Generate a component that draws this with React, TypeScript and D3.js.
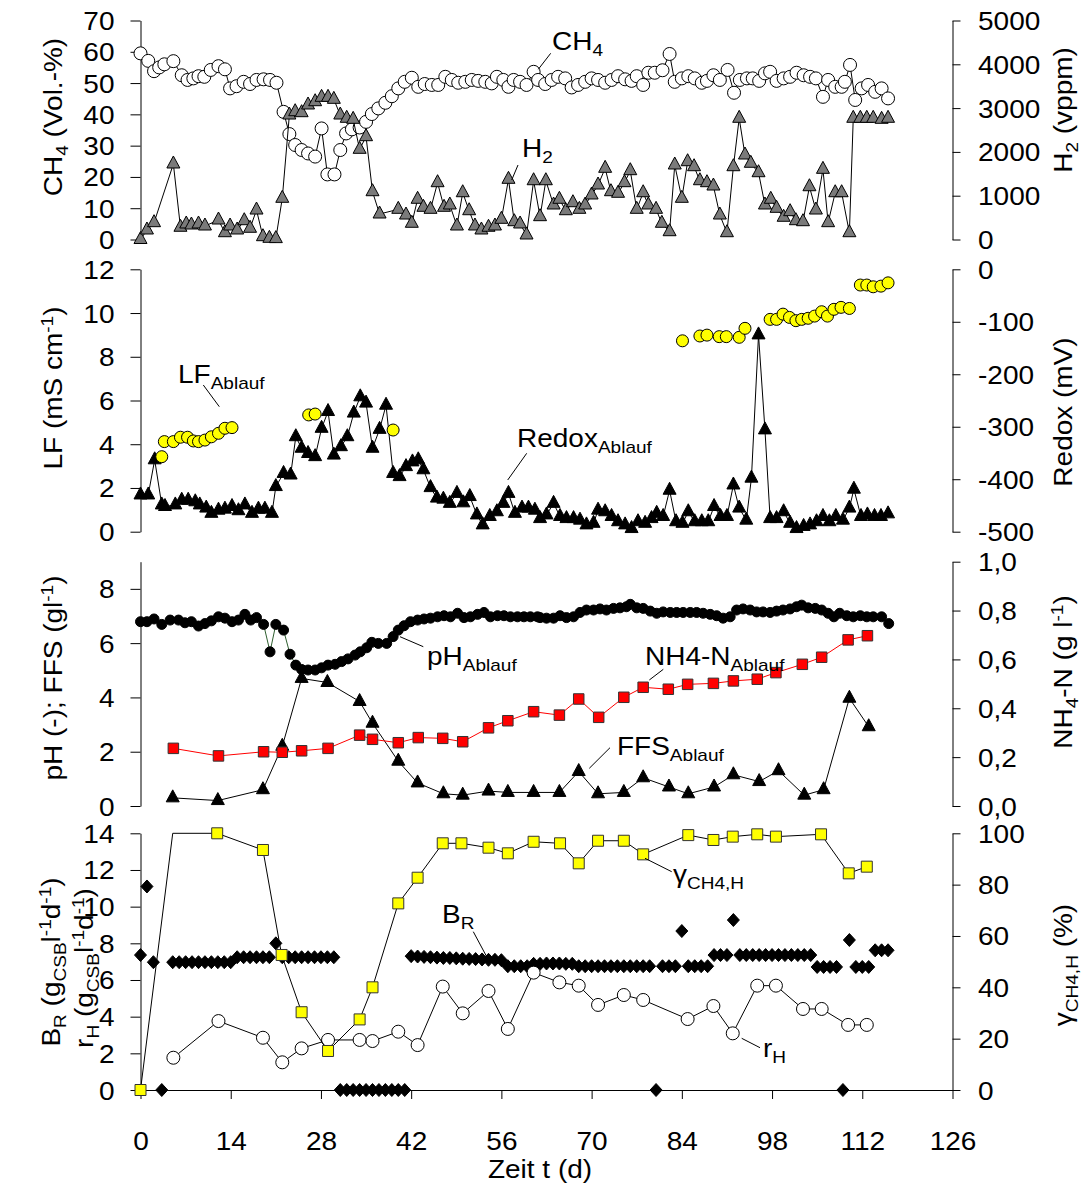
import React, { useEffect, useRef } from "react";
import * as d3 from "d3";

// ---- data (day, value) ----
const ch4Data = [[0,59.5],[1.2,57.1],[2.1,53.8],[2.9,55],[3.7,56],[5.1,57],[6.4,52.5],[7.3,51],[8.2,51.5],[9,52.2],[9.9,52],[10.9,54.2],[12.1,55.4],[13.1,54.4],[13.9,48.3],[14.9,49],[16,50.4],[17,49.7],[18,51],[19.1,51.2],[20.1,51],[21.1,50.1],[22.2,40.8],[23.1,33.7],[24,30.2],[25,28.6],[26,27.5],[27.1,26.5],[28.1,35.5],[29,20.8],[30.1,20.8],[31,28.6],[31.9,33.9],[32.8,35.2],[34,35.8],[35,37.6],[35.9,40.1],[36.9,41.9],[38,43.7],[39,45.8],[40,48.3],[41,50.4],[42.1,51.7],[43.1,48.8],[44.1,49.7],[45.2,49.4],[46.2,49.4],[47.3,52],[48.3,51],[49.3,50.1],[50.4,50.4],[51.4,51],[52.4,50.7],[53.5,50.4],[54.5,49.9],[55.3,52],[56.3,51],[57.1,48.8],[57.9,51],[58.9,50.4],[59.9,49.4],[61,53.6],[61.7,51],[62.8,49.7],[63.8,51],[64.8,52],[65.9,51.5],[66.9,48.6],[67.9,49.4],[69,50.4],[70,51.5],[71,51],[72.1,50.1],[73.1,51],[74.1,52.2],[75.2,51.2],[76.2,50.7],[77,52.2],[78,49.4],[78.8,53.3],[79.8,53.3],[81,54.1],[82.1,59.3],[82.9,50.4],[84,51.5],[85,52.2],[86,51.5],[87.1,50.1],[87.9,50.7],[88.9,52.5],[89.9,51],[91.1,54.2],[92.1,46.9],[93,51],[94.1,51.5],[95,51.5],[96,50.7],[96.9,53.1],[97.7,53.6],[98.7,50.7],[99.8,51.5],[100.8,52],[101.8,53.3],[102.9,52.5],[103.9,52],[104.8,51.5],[105.9,45.6],[106.7,51],[107.8,48.8],[108.8,48.8],[109.3,50.4],[110.1,55.8],[110.9,44.6],[111.9,48.3],[112.9,49.4],[114,47.2],[115,48.3],[116,45.1]];

const h2Data = [[0,0],[1,217],[2.1,384],[5.1,1724],[6.2,279],[7.1,354],[7.9,331],[9,354],[10,308],[12.1,445],[13.1,155],[13.9,308],[15,217],[16.1,429],[17,256],[18,673],[19,64],[20,27],[21,20],[22,940],[23.1,2842],[24,2918],[25,2895],[26,3071],[27.1,3146],[28.1,3246],[29.1,3246],[30,3200],[31,2842],[32,2767],[33,2744],[34,2059],[35,2347],[36,1091],[37.1,582],[40,689],[41.2,559],[42.1,370],[43,918],[43.9,735],[45,689],[46.1,1297],[47.1,735],[48,788],[49.1,308],[50,1068],[51,657],[51.9,308],[52.9,217],[54,279],[55,308],[56,461],[57.1,1374],[58,406],[58.9,354],[59.9,103],[61,1342],[62,521],[62.9,1342],[64.1,788],[65,918],[66,657],[67.1,840],[68.1,689],[69,788],[70,1016],[71,1244],[72.1,1625],[73,1091],[74.1,1055],[75.1,1297],[76,1571],[77,689],[78,1068],[78.8,788],[80,689],[80.9,370],[82.1,178],[82.9,1701],[84,940],[84.9,1776],[85.9,1662],[86.8,1342],[87.9,1297],[88.9,1221],[89.9,559],[91,155],[92,1662],[92.9,2767],[93.8,1929],[94.7,1740],[95.9,1525],[96.9,788],[97.8,918],[98.7,712],[99.8,507],[100.8,635],[101.7,429],[102.8,406],[103.8,1205],[104.8,673],[105.9,1602],[106.7,384],[107.8,1068],[108.8,1068],[110,155],[110.6,2767],[111.7,2767],[112.7,2767],[113.7,2767],[115,2744],[116,2767]];

const redoxData = [[0,-430],[1.2,-430],[2.2,-363],[3.3,-449],[3.8,-452],[5.4,-449],[6.4,-440],[7.4,-440],[8.5,-443],[9.2,-449],[10.2,-455],[11,-465],[12.1,-459],[13.1,-457],[14.2,-452],[15.2,-460],[16.2,-449],[17.3,-465],[18.3,-457],[19.3,-457],[20.4,-465],[21,-414],[22.2,-389],[23.3,-392],[24.1,-319],[25,-341],[26,-351],[27.1,-357],[28.1,-303],[29.1,-271],[30,-354],[31.1,-338],[32.1,-319],[33.1,-274],[34.1,-243],[35,-255],[36,-341],[37.1,-305],[38.1,-259],[39.2,-389],[40.2,-395],[41.2,-376],[42.2,-367],[43.1,-363],[43.9,-382],[45,-416],[46,-436],[47,-438],[48,-446],[49.1,-427],[50.1,-445],[51.1,-433],[52.2,-468],[53.1,-487],[54.2,-471],[55.3,-462],[56.3,-446],[57.1,-427],[58.1,-465],[59.2,-455],[60.2,-455],[61.2,-459],[62,-475],[63,-468],[64.1,-446],[65.1,-471],[66.1,-475],[67.2,-475],[68.2,-478],[69.2,-487],[70.3,-484],[71,-459],[72.1,-462],[73.1,-471],[74.1,-481],[75.2,-487],[76.2,-494],[77.2,-481],[78.3,-484],[79.3,-475],[80.1,-465],[81.1,-471],[82.1,-421],[83.1,-481],[84.1,-484],[85,-462],[86,-481],[87.1,-481],[88.1,-481],[89,-452],[90,-471],[91,-471],[92,-411],[92.9,-455],[94,-478],[94.8,-398],[95.9,-125],[96.9,-306],[97.7,-475],[98.7,-475],[99.8,-462],[100.8,-484],[101.8,-494],[102.9,-490],[103.9,-487],[104.9,-481],[105.9,-471],[106.9,-481],[107.9,-471],[109,-478],[110,-455],[110.7,-419],[111.8,-471],[112.8,-468],[113.9,-471],[114.9,-471],[116,-466]];

const lfData = [[3.3,3.43],[3.7,4.12],[5.1,4.12],[6.2,4.32],[7.3,4.32],[8.2,4.15],[9,4.12],[10,4.19],[11,4.34],[12.1,4.5],[13.1,4.73],[14.2,4.76],[26.1,5.34],[27.1,5.38],[39.2,4.65],[84.1,8.73],[86.8,8.95],[87.9,8.99],[89.8,8.92],[90.9,8.92],[92.9,8.89],[93.8,9.3],[97.7,9.71],[98.7,9.71],[99.7,9.95],[100.7,9.8],[101.7,9.65],[102.6,9.71],[103.6,9.76],[104.6,9.86],[105.7,10.06],[106.6,9.86],[107.6,10.17],[108.7,10.26],[110,10.21],[111.7,11.28],[112.7,11.28],[113.7,11.2],[114.9,11.23],[116,11.38]];

const phData = [[0,6.79],[1,6.79],[2.1,6.89],[3.3,6.69],[4.6,6.85],[5.9,6.85],[6.9,6.75],[7.9,6.79],[9,6.63],[10,6.72],[11,6.82],[12.1,6.97],[13.1,6.92],[14.2,6.79],[15.2,6.85],[16.2,7.06],[17.1,6.85],[18,6.94],[19.1,6.69],[20.1,5.68],[21,6.69],[22.2,6.48],[23.2,5.59],[24.1,5.19],[25,5.03],[26,5.01],[27.1,5.01],[28.1,5.09],[29.1,5.19],[30.2,5.22],[31.2,5.32],[32.2,5.42],[33.3,5.56],[34.1,5.68],[35.1,5.83],[35.9,6.03],[36.9,5.99],[38.2,5.99],[39.2,6.24],[40,6.48],[40.9,6.64],[41.9,6.79],[43,6.85],[44,6.89],[45,6.92],[46.1,6.97],[47.1,7.01],[48.1,6.97],[49.2,7.1],[50.2,6.94],[51.2,6.97],[52.3,7.06],[53.3,7.13],[54.3,6.97],[55.4,7.01],[56.4,7.01],[57.4,6.97],[58.5,6.97],[59.5,6.97],[60.5,6.97],[61.6,6.97],[62,6.94],[63,6.92],[64.1,6.92],[65.1,7.01],[66.1,6.94],[67.2,6.97],[68.2,7.13],[69.2,7.22],[70.3,7.22],[71.3,7.26],[72.3,7.22],[73.4,7.28],[74.4,7.3],[75.4,7.34],[76,7.43],[77,7.3],[78,7.28],[79.1,7.18],[80.1,7.1],[81.1,7.15],[82.2,7.13],[83.2,7.13],[84.2,7.13],[85.3,7.13],[86.3,7.13],[87.3,7.1],[88.4,7.06],[89.4,7.01],[90.4,6.92],[91.5,6.97],[92.5,7.22],[93.5,7.26],[94.6,7.22],[95.6,7.15],[96.6,7.15],[97.7,7.13],[98.7,7.18],[99.7,7.22],[100.8,7.26],[101.8,7.34],[102.6,7.4],[103.6,7.3],[104.7,7.28],[105.7,7.22],[106.7,7.1],[107.6,6.97],[108.5,7.1],[109.6,7.01],[110.6,6.97],[111.7,7.01],[112.7,6.97],[113.7,6.97],[115,6.97],[116.1,6.72]];

const nh4Data = [[5.1,0.236],[12.1,0.205],[19.1,0.222],[22,0.22],[25,0.226],[29.1,0.236],[34,0.29],[36,0.273],[40,0.259],[43.1,0.28],[46.9,0.277],[50,0.263],[54,0.32],[57,0.349],[61,0.386],[65,0.372],[68,0.438],[71.1,0.363],[75,0.445],[78,0.486],[81.9,0.478],[84.9,0.498],[88.9,0.502],[92,0.512],[95.7,0.519],[98.6,0.546],[102.7,0.58],[105.7,0.609],[109.8,0.68],[112.8,0.697]];

const ffsData = [[5,0.3],[12,0.2],[19,0.6],[22,2.2],[25,4.7],[29,4.55],[34,3.85],[36,3.05],[40,1.65],[43,0.85],[47,0.45],[50,0.4],[54,0.55],[57,0.5],[61,0.5],[65,0.5],[68,1.27],[71,0.45],[75,0.5],[78,1.04],[82,0.7],[85,0.45],[89,0.7],[92,1.15],[96,0.9],[99,1.3],[103,0.4],[106,0.6],[110,3.97],[113,2.92]];

const gammaData = [[0,0],[5,100],[11.9,100],[19,93.5],[21.9,52.6],[25,30.3],[29.1,15.2],[34,27.5],[36,40],[40,72.7],[43,82.7],[46.9,96.1],[49.8,96.1],[54,94.4],[57,92.2],[61,96.7],[65.1,96.1],[68,88.3],[71,97.1],[75,97.1],[78,91.8],[85,99.3],[88.9,97.4],[91.9,98.7],[95.7,99.6],[98.6,98.7],[105.6,99.6],[109.9,84.4],[112.7,87]];
const gammaNoMarkerDays = [5];

const rhData = [[5.1,1.76],[12.1,3.76],[19,2.85],[22,1.51],[25,2.27],[29.1,2.73],[34,2.73],[36,2.67],[40,3.18],[43,2.45],[46.9,5.64],[50,4.18],[54,5.4],[57,3.33],[61,6.4],[65,5.87],[68,5.69],[71,4.64],[75,5.18],[78,4.91],[84.9,3.87],[88.9,4.58],[91.9,3.09],[95.7,5.69],[98.6,5.69],[102.8,4.42],[105.7,4.42],[109.8,3.55],[112.7,3.55]];

const brData = [[0,7.36],[1,11.1],[2,6.97],[3.3,0],[5,6.97],[6,6.97],[7,6.97],[8,6.97],[9,6.97],[10,6.97],[11,6.97],[12,6.97],[13,6.97],[14,6.97],[15,7.24],[16,7.24],[17,7.24],[18,7.24],[19,7.24],[20,7.24],[21,8.0],[22,7.24],[23,7.24],[24,7.24],[25,7.24],[26,7.24],[27,7.24],[28,7.24],[29,7.24],[30,7.24],[31,0],[32,0],[33,0],[34,0],[35,0],[36,0],[37,0],[38,0],[39,0],[40,0],[41,0],[42,7.3],[43,7.28],[44,7.26],[45,7.24],[46,7.22],[47,7.2],[48,7.2],[49,7.18],[50,7.16],[51,7.15],[52,7.14],[53,7.12],[54,7.1],[55,7.1],[56,7.08],[57,6.75],[58,6.75],[59,6.75],[60,6.75],[61,6.88],[62,6.88],[63,6.9],[64,6.9],[65,6.9],[66,6.88],[67,6.88],[68,6.75],[69,6.75],[70,6.75],[71,6.75],[72,6.75],[73,6.75],[74,6.75],[75,6.75],[76,6.75],[77,6.75],[78,6.75],[79,6.75],[80,0],[81,6.75],[82,6.75],[83,6.75],[84,8.67],[85,6.75],[86,6.75],[87,6.75],[88,6.75],[89,7.36],[90,7.36],[91,7.36],[92,9.27],[93,7.36],[94,7.36],[95,7.36],[96,7.36],[97,7.36],[98,7.36],[99,7.36],[100,7.36],[101,7.36],[102,7.36],[103,7.36],[104,7.36],[105,6.71],[106,6.71],[107,6.71],[108,6.71],[109,0],[110,8.18],[111,6.71],[112,6.71],[113,6.71],[114,7.62],[115,7.62],[116,7.62]];

// ---- tick labels ----
const dayTicks = [0, 14, 28, 42, 56, 70, 84, 98, 112, 126];
const ch4Ticks = [0, 10, 20, 30, 40, 50, 60, 70];
const h2Ticks = [0, 1000, 2000, 3000, 4000, 5000];
const lfTicks = [0, 2, 4, 6, 8, 10, 12];
const redoxTicks = [-500, -400, -300, -200, -100, 0];
const phTicks = [0, 2, 4, 6, 8];
const nh4Ticks = [0, 0.2, 0.4, 0.6, 0.8, 1.0];
const brTicks = [0, 2, 4, 6, 8, 10, 12, 14];
const gammaTicks = [0, 20, 40, 60, 80, 100];

const W = 1087;
const H = 1191;
const FONT = '"Liberation Sans", Arial, sans-serif';
const FS = 25;
const SX = 1.12; // the original lettering is a bit wide

// text with sub (1) / superscript (2) parts
function rich(g: any, parts: any[], px: number, py: number, opts: any = {}) {
    const size = opts.size ?? FS;
    const t = g.append("text")
        .attr("transform", `translate(${px},${py})${opts.rot ? " rotate(-90)" : ""} scale(${SX},1)`)
        .attr("text-anchor", opts.anchor ?? "start")
        .attr("font-size", size)
        .style("white-space", "pre");
    let shift = 0;
    parts.forEach(([s, k]) => {
        const target = k === 1 ? size * 0.25 : k === 2 ? -size * 0.38 : 0;
        t.append("tspan")
            .attr("dy", target - shift)
            .attr("font-size", k ? size * 0.68 : size)
            .text(s);
        shift = target;
    });
}

const tri = "M0,-8L6.5,4L-6.5,4Z";
const dia = "M0,-6.5L6,0L0,6.5L-6,0Z";

const App = () => {
    const svgRef = useRef(null);

    useEffect(() => {
        const svg = d3.select(svgRef.current);
        svg.selectAll("*").remove();

        const x = d3.scaleLinear().domain([0, 126]).range([140.5, 952.5]);
        const xl = x(0);
        const xr = x(126);

        const y1 = d3.scaleLinear().domain([0, 70]).range([239.5, 20.5]);
        const y1r = d3.scaleLinear().domain([0, 5000]).range([239.5, 20.5]);
        const y2 = d3.scaleLinear().domain([0, 12]).range([531.7, 269.3]);
        const y2r = d3.scaleLinear().domain([-500, 0]).range([531.7, 269.3]);
        const y3 = d3.scaleLinear().domain([0, 9]).range([806, 561.7]);
        const y3r = d3.scaleLinear().domain([0, 1]).range([806, 561.7]);
        const y4 = d3.scaleLinear().domain([0, 14]).range([1090, 833.3]);
        const y4r = d3.scaleLinear().domain([0, 100]).range([1090, 833.3]);

        const plain = (d: number) => String(d);
        const comma = (d: number) => d.toFixed(1).replace(".", ",");

        const leftAxis = (y: any, ticks: number[]) => {
            const g = svg.append("g").attr("transform", `translate(${xl},0)`)
                .call(d3.axisLeft(y).tickValues(ticks).tickSize(10).tickSizeOuter(0).tickFormat(plain));
            g.attr("font-size", null).attr("font-family", null);
            g.selectAll("text").attr("x", -26 / SX).attr("dy", "0.36em")
                .attr("transform", `scale(${SX},1)`).attr("font-size", FS).attr("fill", "#000");
        };
        const rightAxis = (y: any, ticks: number[], fmt: any) => {
            const g = svg.append("g").attr("transform", `translate(${xr},0)`)
                .call(d3.axisRight(y).tickValues(ticks).tickSize(8).tickSizeOuter(0).tickFormat(fmt));
            g.attr("font-size", null).attr("font-family", null);
            g.selectAll("text").attr("x", 25.5 / SX).attr("dy", "0.36em")
                .attr("transform", `scale(${SX},1)`).attr("font-size", FS).attr("fill", "#000");
        };

        leftAxis(y1, ch4Ticks); rightAxis(y1r, h2Ticks, plain);
        leftAxis(y2, lfTicks); rightAxis(y2r, redoxTicks, plain);
        leftAxis(y3, phTicks); rightAxis(y3r, nh4Ticks, comma);
        leftAxis(y4, brTicks); rightAxis(y4r, gammaTicks, plain);

        const gx = svg.append("g").attr("transform", "translate(0,1090)")
            .call(d3.axisBottom(x).tickValues(dayTicks).tickSize(9).tickSizeOuter(0).tickFormat(plain));
        gx.attr("font-size", null).attr("font-family", null);
        gx.selectAll("text").attr("y", 42).attr("transform", `scale(${SX},1)`)
            .attr("font-size", FS).attr("fill", "#000");

        const lineOf = (y: any) => d3.line().x((d: any) => x(d[0])).y((d: any) => y(d[1]));
        const path = (data: any[], y: any, color: string, w = 1) =>
            svg.append("path").datum(data).attr("d", lineOf(y) as any)
                .attr("fill", "none").attr("stroke", color).attr("stroke-width", w);
        const circles = (data: any[], y: any, r: number, fill: string) =>
            svg.append("g").selectAll("circle").data(data).join("circle")
                .attr("cx", (d: any) => x(d[0])).attr("cy", (d: any) => y(d[1]))
                .attr("r", r).attr("fill", fill).attr("stroke", "#000").attr("stroke-width", 1);
        const shapes = (data: any[], y: any, shape: string, fill: string, stroke = "#000") =>
            svg.append("g").selectAll("path").data(data).join("path")
                .attr("transform", (d: any) => `translate(${x(d[0])},${y(d[1])})`)
                .attr("d", shape).attr("fill", fill).attr("stroke", stroke).attr("stroke-width", 1);
        const square = (s: number) => `M${-s / 2},${-s / 2}h${s}v${s}h${-s}Z`;

        // panel 1: CH4 / H2
        path(ch4Data, y1, "#000");
        circles(ch4Data, y1, 6.5, "#fff");
        path(h2Data, y1r, "#000");
        shapes(h2Data, y1r, tri, "#7a7a7a");

        // panel 2: Redox / LF
        path(redoxData, y2r, "#000");
        shapes(redoxData, y2r, tri, "#000");
        circles(lfData, y2, 6, "#ffff00");

        // panel 3: pH / FFS / NH4-N
        path(phData, y3, "#2f5f2f");
        circles(phData, y3, 5, "#000");
        path(ffsData, y3, "#000");
        shapes(ffsData, y3, tri, "#000");
        path(nh4Data, y3r, "#ff0000");
        shapes(nh4Data, y3r, square(10.5), "#ff0000", "#333");

        // panel 4: B_R / r_H / gamma
        shapes(brData, y4, dia, "#000");
        path(rhData, y4, "#000");
        circles(rhData, y4, 6.5, "#fff");
        path(gammaData, y4r, "#000");
        shapes(gammaData.filter(d => !gammaNoMarkerDays.includes(d[0])), y4r, square(11), "#ffff00", "#333");

        // axis titles
        const t = svg.append("g").attr("fill", "#000");
        rich(t, [["CH"], ["4", 1], [" (Vol.-%)"]], 62, 117, { rot: true, anchor: "middle" });
        rich(t, [["LF (mS cm"], ["-1", 2], [")"]], 62, 388, { rot: true, anchor: "middle" });
        rich(t, [["pH (-); FFS (gl"], ["-1", 2], [")"]], 62, 678, { rot: true, anchor: "middle" });
        rich(t, [["B"], ["R", 1], [" (g"], ["CSB", 1], ["l"], ["-1", 2], ["d"], ["-1", 2], [")"]], 60, 962, { rot: true, anchor: "middle" });
        rich(t, [["r"], ["H", 1], [" (g"], ["CSB", 1], ["l"], ["-1", 2], ["d"], ["-1", 2], [")"]], 93, 968, { rot: true, anchor: "middle" });
        rich(t, [["H"], ["2", 1], [" (vppm)"]], 1072, 110, { rot: true, anchor: "middle" });
        rich(t, [["Redox (mV)"]], 1072, 412, { rot: true, anchor: "middle" });
        rich(t, [["NH"], ["4", 1], ["-N (g l"], ["-1", 2], [")"]], 1072, 672, { rot: true, anchor: "middle" });
        rich(t, [["γ"], ["CH4,H", 1], [" (%)"]], 1072, 965, { rot: true, anchor: "middle" });
        rich(t, [["Zeit t (d)"]], 540, 1178, { anchor: "middle" });

        // series labels with leader lines
        const notes = [
            { parts: [["CH"], ["4", 1]], at: [552, 50], line: [550.7, 53.3, 538.3, 69.3] },
            { parts: [["H"], ["2", 1]], at: [522, 157], line: [518, 165, 511.7, 180] },
            { parts: [["LF"], ["Ablauf", 1]], at: [178, 383], line: [203.3, 385, 219.3, 406.7] },
            { parts: [["Redox"], ["Ablauf", 1]], at: [517, 447], line: [526.7, 453.3, 507.7, 480] },
            { parts: [["pH"], ["Ablauf", 1]], at: [427, 665], line: [423.3, 646.7, 400, 636.7] },
            { parts: [["NH4-N"], ["Ablauf", 1]], at: [645, 665], line: [663.3, 669.3, 649.3, 680] },
            { parts: [["FFS"], ["Ablauf", 1]], at: [617, 755], line: [610, 747.7, 589.3, 768.3] },
            { parts: [["γ"], ["CH4,H", 1]], at: [673, 883], line: [671.7, 871.7, 645, 858.3] },
            { parts: [["B"], ["R", 1]], at: [442, 923], line: [473.3, 931.7, 486.7, 956.7] },
            { parts: [["r"], ["H", 1]], at: [763, 1057], line: [741.7, 1038.3, 760, 1047.7] },
        ];
        notes.forEach(n => {
            svg.append("line").attr("x1", n.line[0]).attr("y1", n.line[1])
                .attr("x2", n.line[2]).attr("y2", n.line[3]).attr("stroke", "#000").attr("stroke-width", 1);
            rich(t, n.parts, n.at[0], n.at[1]);
        });
    }, []);

    return (
        <>
            <style>{"body{margin:0}"}</style>
            <svg ref={svgRef} width={W} height={H} style={{ display: "block", fontFamily: FONT, background: "#fff" }} />
        </>
    );
};

export default App;
